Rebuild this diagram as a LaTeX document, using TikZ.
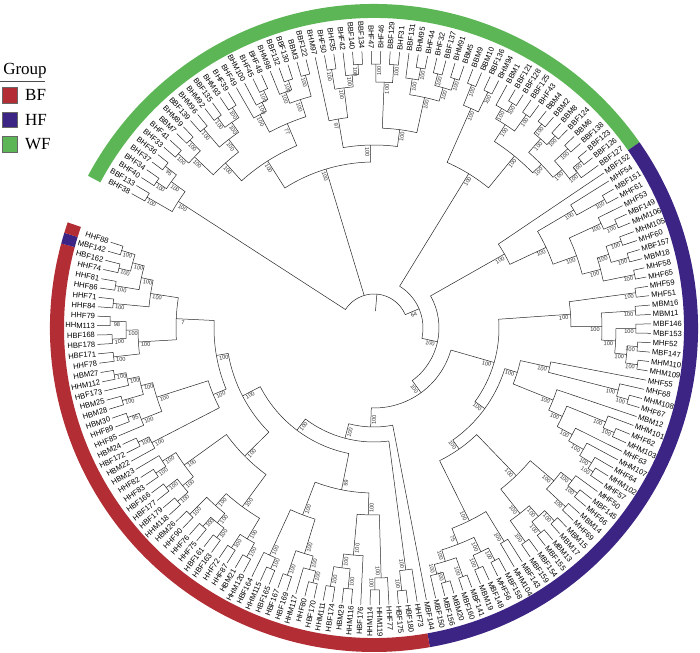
\documentclass[tikz,border=0pt]{standalone}
\usepackage{fontspec}
\setmainfont{Liberation Serif}
\newfontfamily\labfont{Liberation Sans}
\definecolor{bfred}{RGB}{178,45,52}
\definecolor{hfpurple}{RGB}{60,36,132}
\definecolor{wfgreen}{RGB}{92,182,86}

% Blatt: Index, Name
\newcommand\leafnode[2]{%
  \pgfmathsetmacro\la{151-#1*1.95}%
  \expandafter\xdef\csname A@#1\endcsname{\la}%
  \expandafter\xdef\csname R@#1\endcsname{277}%
  \pgfmathtruncatemacro\isleft{cos(\la)<0}%
  \pgfmathsetmacro\lrot{\la+180*\isleft}%
  \ifnum\isleft=1 \def\lanc{east}\else\def\lanc{west}\fi
  \node[leaflabel, rotate=\lrot, anchor=\lanc] (L#1) at (\la:279pt) {#2};%
}
% Knoten: Name, Radius, Kind a, Kind b, Bootstrap
\newcommand\clade[5]{%
  \edef\ca{\csname A@#3\endcsname}%
  \edef\cb{\csname A@#4\endcsname}%
  \edef\ra{\csname R@#3\endcsname}%
  \edef\rb{\csname R@#4\endcsname}%
  \pgfmathsetmacro\tmid{(\ca+\cb)/2}%
  \expandafter\xdef\csname A@#1\endcsname{\tmid}%
  \expandafter\xdef\csname R@#1\endcsname{#2}%
  \draw[branch] (\ca:\ra pt) -- (\ca:#2pt) arc[start angle=\ca, end angle=\cb, radius=#2pt] -- (\cb:\rb pt);%
  \pgfmathtruncatemacro\isleft{cos(\tmid)<0}%
  \pgfmathsetmacro\brot{\tmid+180*\isleft}%
  \pgfmathsetmacro\brad{#2-7}%
  \path (\tmid:\brad pt) ++(\brot-90:3.2pt) node[boot, rotate=\brot] (B#1) {#5};%
}
% Ring: von Blatt, bis Blatt, Farbe
\newcommand\ringseg[3]{%
  \pgfmathsetmacro\sa{151-(#1-0.5)*1.95}%
  \pgfmathsetmacro\sb{151-(#2+0.5)*1.95}%
  \fill[#3] (\sa:310pt) arc[start angle=\sa, end angle=\sb, radius=310pt] -- (\sb:324pt) arc[start angle=\sb, end angle=\sa, radius=324pt] -- cycle;%
}

\begin{document}
\begin{tikzpicture}[
    branch/.style={line width=0.5pt, black!85},
    leaflabel/.style={font=\labfont\fontsize{7.6}{8}\selectfont, inner sep=0pt},
    boot/.style={font=\labfont\fontsize{5.6}{6}\selectfont, inner sep=0pt, black!80},
    legtext/.style={font=\fontsize{17}{19}\selectfont, anchor=west, inner sep=0pt},
    legbox/.style={draw=black!60, line width=0.4pt}]
\useasboundingbox (-374pt,-324pt) rectangle (326pt,328pt);

% Farbring
\ringseg{0}{59}{wfgreen}
\ringseg{60}{118}{hfpurple}
\ringseg{119}{177}{bfred}
\ringseg{178}{178}{hfpurple}
\ringseg{179}{179}{bfred}

% Blaetter
\foreach \i/\n in {0/BHF38,1/BBF133,2/BHF40,3/BHF34,4/BHF37,5/BHF36,6/BHF33,7/BHF41,8/BBM7,9/BHM89,
  10/BBF139,11/BHM96,12/BHM92,13/BBF135,14/BHM93,15/BHF39,16/BHF49,17/BHM100,18/BHF45,19/BHF48,
  20/BHM98,21/BBF132,22/BBF130,23/BBM3,24/BBF122,25/BHM97,26/BHF50,27/BHF35,28/BHF42,29/BBF140,
  30/BBF134,31/BHF47,32/BHF46,33/BBF129,34/BHF31,35/BBF131,36/BHM95,37/BHF44,38/BHF32,39/BBF137,
  40/BHM91,41/BBM5,42/BBM9,43/BBM10,44/BBF136,45/BHM94,46/BBM1,47/BBF121,48/BBF128,49/BBF125,
  50/BHF43,51/BBM4,52/BBM2,53/BBM8,54/BBF124,55/BBM6,56/BBF138,57/BBF123,58/BBF126,59/BBF127,
  60/MBF152,61/MHF54,62/MBF151,63/MHF61,64/MHF53,65/MBF149,66/MHM106,67/MHM105,68/MHF60,69/MBF157,
  70/MBM18,71/MHF58,72/MHF65,73/MHF59,74/MHF51,75/MBM16,76/MBM11,77/MBF146,78/MBF153,79/MHF52,
  80/MBF147,81/MHM110,82/MHM109,83/MHF55,84/MHF68,85/MHM108,86/MHF67,87/MBM12,88/MHM101,89/MHF62,
  90/MHM103,91/MHF63,92/MHM107,93/MHF64,94/MHM102,95/MHF57,96/MHF50,97/MBF145,98/MHF66,99/MBM14,
  100/MHF69,101/MBM15,102/MBM17,103/MBM13,104/MBF155,105/MBF154,106/MBF159,107/MBF143,108/MHM104,109/MBF158,
  110/MHF56,111/MBF148,112/MBM19,113/MBF141,114/MBF160,115/MBM20,116/MBF156,117/MBF150,118/MBF144,
  119/HHF73,120/HBF180,121/HBF175,122/HHF77,123/HHM119,124/HHM114,125/HBF176,126/HHM116,127/HBM29,128/HBF174,
  129/HHM111,130/HBF170,131/HHF80,132/HHM117,133/HBF169,134/HBF167,135/HBF165,136/HHM115,137/HBF164,138/HHM120,
  139/HBM21,140/HHF87,141/HHF72,142/HBF163,143/HBF161,144/HHF75,145/HHF76,146/HHF90,147/HBM26,148/HHM118,
  149/HBF179,150/HBF177,151/HBF166,152/HHF83,153/HHF82,154/HBM23,155/HBM22,156/HBF172,157/HBM24,158/HHF85,
  159/HHF89,160/HBM30,161/HBM28,162/HBM25,163/HBF173,164/HHM112,165/HBM27,166/HHF78,167/HBF171,168/HBF178,
  169/HBF168,170/HHM113,171/HHF79,172/HHF84,173/HHF71,174/HHF86,175/HHF81,176/HHF74,177/HBF162,178/MBF142,179/HHF88}
  {\leafnode{\i}{\n}}

% WF-Gruppe
\clade{c1}{262}{0}{1}{100}
\clade{c2}{262}{2}{3}{100}
\clade{c3}{264}{4}{5}{95}
\clade{c4}{250}{c2}{c3}{100}
\clade{G1}{233}{c1}{c4}{100}
\clade{d1}{262}{6}{7}{100}
\clade{d2}{263}{8}{9}{100}
\clade{d3}{248}{d1}{d2}{100}
\clade{d4}{262}{10}{11}{100}
\clade{d5}{262}{12}{13}{100}
\clade{d6}{262}{14}{15}{100}
\clade{d7}{250}{d5}{d6}{100}
\clade{d8}{238}{d4}{d7}{100}
\clade{G3a}{222}{d3}{d8}{100}
\clade{e1}{262}{18}{19}{100}
\clade{e2}{252}{17}{e1}{100}
\clade{e3}{242}{16}{e2}{100}
\clade{e4}{262}{21}{22}{100}
\clade{e5}{252}{20}{e4}{100}
\clade{e6}{262}{23}{24}{100}
\clade{e7}{240}{e5}{e6}{100}
\clade{G3b}{222}{e3}{e7}{77}
\clade{G3}{198}{G3a}{G3b}{100}
\clade{f1}{262}{26}{27}{100}
\clade{f2}{264}{29}{30}{100}
\clade{f3}{254}{28}{f2}{100}
\clade{f4}{242}{f1}{f3}{100}
\clade{G5}{212}{25}{f4}{97}
\clade{h1}{264}{31}{32}{100}
\clade{h2}{264}{33}{34}{100}
\clade{h3}{246}{h1}{h2}{100}
\clade{h4}{264}{36}{37}{100}
\clade{h5}{252}{35}{h4}{100}
\clade{h6}{262}{38}{39}{100}
\clade{h7}{262}{40}{41}{100}
\clade{h8}{250}{h6}{h7}{100}
\clade{h9}{236}{h5}{h8}{100}
\clade{G4b}{200}{h3}{h9}{100}
\clade{G4}{183}{G5}{G4b}{100}
\clade{G2}{166}{G3}{G4}{100}
\clade{k1}{262}{42}{43}{100}
\clade{k2}{262}{44}{45}{100}
\clade{k3}{240}{k1}{k2}{100}
\clade{k4}{264}{47}{48}{100}
\clade{k5}{254}{46}{k4}{100}
\clade{k6}{262}{49}{50}{100}
\clade{k7}{242}{k5}{k6}{100}
\clade{k8}{264}{51}{52}{100}
\clade{k9}{264}{53}{54}{100}
\clade{k10}{252}{k8}{k9}{100}
\clade{k11}{264}{55}{56}{100}
\clade{k12}{266}{57}{58}{100}
\clade{k13}{256}{k12}{59}{100}
\clade{k14}{246}{k11}{k13}{100}
\clade{k15}{234}{k10}{k14}{100}
\clade{k16}{222}{k7}{k15}{100}
\clade{GR}{181}{k3}{k16}{100}

% HF-Gruppe
\clade{m1}{264}{62}{63}{100}
\clade{m2}{232}{61}{m1}{100}
\clade{m3}{264}{65}{66}{100}
\clade{m4}{250}{64}{m3}{100}
\clade{m5}{262}{67}{68}{100}
\clade{m6}{264}{69}{70}{100}
\clade{m7}{246}{m5}{m6}{100}
\clade{m8}{266}{71}{72}{100}
\clade{m9}{234}{m7}{m8}{100}
\clade{m10}{215}{m4}{m9}{100}
\clade{m11}{190}{m2}{m10}{100}
\clade{P1}{150}{60}{m11}{100}
\clade{n1}{264}{73}{74}{100}
\clade{n2}{262}{75}{76}{100}
\clade{n3}{262}{77}{78}{100}
\clade{n4}{264}{79}{80}{100}
\clade{n5}{266}{81}{82}{100}
\clade{n6}{254}{n4}{n5}{100}
\clade{n7}{242}{n3}{n6}{100}
\clade{n8}{228}{n2}{n7}{100}
\clade{P2}{197}{n1}{n8}{100}
\clade{q1}{264}{85}{86}{100}
\clade{q2}{252}{84}{q1}{100}
\clade{P3x}{180}{83}{q2}{100}
\clade{s1}{262}{94}{95}{100}
\clade{s2}{256}{93}{s1}{100}
\clade{s3}{242}{92}{s2}{100}
\clade{s4}{225}{91}{s3}{100}
\clade{s5}{262}{89}{90}{100}
\clade{s6}{250}{88}{s5}{100}
\clade{s7}{208}{s6}{s4}{100}
\clade{P3y}{193}{87}{s7}{100}
\clade{P3}{150}{P3x}{P3y}{100}
\clade{t1}{262}{97}{98}{100}
\clade{t2}{250}{96}{t1}{100}
\clade{t3}{262}{99}{100}{100}
\clade{t4}{236}{t2}{t3}{100}
\clade{t5}{264}{101}{102}{100}
\clade{t6}{264}{103}{104}{100}
\clade{t7}{250}{t5}{t6}{100}
\clade{t8}{262}{105}{106}{100}
\clade{t9}{236}{t7}{t8}{100}
\clade{P4a}{205}{t4}{t9}{100}
\clade{u1}{250}{107}{108}{100}
\clade{u2}{262}{109}{110}{100}
\clade{u3}{262}{111}{112}{100}
\clade{u4}{248}{u2}{u3}{100}
\clade{u5}{264}{113}{114}{100}
\clade{u6}{264}{115}{116}{100}
\clade{u7}{254}{u6}{117}{100}
\clade{u8}{244}{u5}{u7}{100}
\clade{u9}{232}{u4}{u8}{75}
\clade{P4b}{215}{u1}{u9}{100}
\clade{P4}{148}{P4a}{P4b}{100}
\clade{ZZ}{137}{P3}{P4}{100}
\clade{Z}{125}{P2}{ZZ}{100}

% BF-Gruppe
\clade{v1}{264}{120}{121}{100}
\clade{v2}{244}{119}{v1}{100}
\clade{w1}{262}{123}{124}{100}
\clade{w2}{250}{122}{w1}{100}
\clade{w3}{262}{126}{127}{100}
\clade{w5}{262}{128}{129}{100}
\clade{w4}{242}{w3}{w5}{100}
\clade{w6}{228}{125}{w4}{100}
\clade{w7}{187}{w2}{w6}{100}
\clade{x1}{262}{130}{131}{100}
\clade{x2}{250}{x1}{132}{100}
\clade{x3}{262}{133}{134}{100}
\clade{x4}{236}{x2}{x3}{100}
\clade{x5}{262}{135}{136}{100}
\clade{x6}{250}{x5}{137}{100}
\clade{x7}{200}{x4}{x6}{100}
\clade{Ra}{165}{w7}{x7}{99}
\clade{y1}{262}{138}{139}{100}
\clade{y2}{262}{140}{141}{100}
\clade{y3}{246}{y1}{y2}{100}
\clade{y4}{262}{142}{143}{100}
\clade{y5}{262}{144}{145}{100}
\clade{y6}{250}{y4}{y5}{100}
\clade{y7}{262}{146}{147}{100}
\clade{y8}{238}{y6}{y7}{100}
\clade{y9}{222}{y3}{y8}{100}
\clade{y10}{262}{148}{149}{100}
\clade{y11}{262}{150}{151}{100}
\clade{y12}{248}{y10}{y11}{100}
\clade{y13}{262}{152}{153}{100}
\clade{y14}{250}{y13}{154}{100}
\clade{y15}{234}{y12}{y14}{100}
\clade{y16}{182}{y9}{y15}{100}
\clade{z1}{262}{156}{157}{100}
\clade{z2}{250}{155}{z1}{100}
\clade{z3}{262}{159}{160}{95}
\clade{z4}{250}{158}{z3}{100}
\clade{z5}{262}{161}{162}{100}
\clade{z6}{264}{164}{165}{100}
\clade{z7}{252}{163}{z6}{100}
\clade{z8}{240}{z5}{z7}{100}
\clade{z9}{228}{z4}{z8}{100}
\clade{z10}{174}{z2}{z9}{100}
\clade{a1}{264}{178}{179}{100}
\clade{a2}{262}{176}{177}{100}
\clade{a3}{250}{a2}{a1}{100}
\clade{a4}{262}{174}{175}{100}
\clade{a5}{238}{a4}{a3}{100}
\clade{a6}{262}{172}{173}{100}
\clade{a7}{226}{a6}{a5}{100}
\clade{b1}{264}{170}{171}{98}
\clade{b2}{262}{168}{169}{100}
\clade{b3}{248}{b2}{b1}{100}
\clade{b4}{262}{166}{167}{100}
\clade{b5}{236}{b4}{b3}{100}
\clade{Rb4}{198}{b5}{a7}{7}
\clade{Rc}{160}{z10}{Rb4}{100}
\clade{Rb}{148}{y16}{Rc}{100}
\clade{R}{128}{Ra}{Rb}{100}

% innere Spirale
\clade{N5}{114}{v2}{R}{100}
\clade{N4}{99}{118}{N5}{100}
\clade{N3}{80}{Z}{N4}{100}
\clade{N2}{65}{P1}{N3}{100}
\clade{N1}{49}{GR}{N2}{64}

% Wurzel
\edef\ga{\csname A@G1\endcsname}
\edef\gb{\csname A@G2\endcsname}
\edef\gc{\csname A@N1\endcsname}
\pgfmathsetmacro\groot{(\ga+\gc)/2}
\draw[branch] (\ga:233pt) -- (\ga:34pt) arc[start angle=\ga, end angle=\gc, radius=34pt] -- (\gc:49pt);
\draw[branch] (\gb:34pt) -- (\gb:166pt);
\draw[branch] (\groot:17pt) -- (\groot:34pt);

% Legende
\node[legtext, anchor=center] (grp) at (-349pt,257pt) {Group};
\draw[line width=0.5pt, black!70] (-374pt,247pt) -- (-329pt,247pt);
\draw[legbox, fill=bfred] (-372pt,241pt) rectangle (-357pt,225pt);
\draw[legbox, fill=hfpurple] (-372pt,216pt) rectangle (-357pt,201pt);
\draw[legbox, fill=wfgreen] (-372pt,192pt) rectangle (-357pt,176pt);
\node[legtext] (bf) at (-349pt,233pt) {BF};
\node[legtext] (hf) at (-349pt,208pt) {HF};
\node[legtext] (wf) at (-349pt,184pt) {WF};
\end{tikzpicture}
\end{document}
